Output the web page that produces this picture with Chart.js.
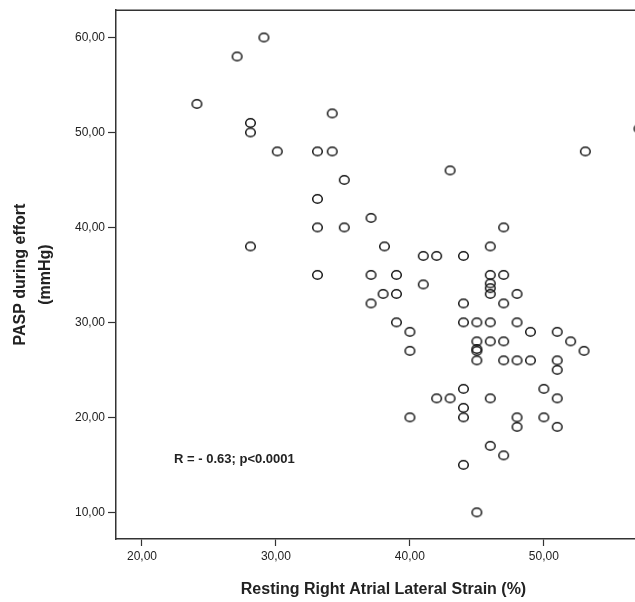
<!DOCTYPE html>
<html>
<head>
<meta charset="utf-8">
<script src="https://cdn.jsdelivr.net/npm/chart.js@4/dist/chart.umd.min.js"></script>
<style>
  body { margin: 0; overflow: hidden; background: #fff; }
  #myChart { display: block; }
</style>
</head>
<body>
<canvas id="myChart" width="660" height="602"></canvas>
<script>
// Resting RA lateral strain (%) vs PASP during effort (mmHg)
const strain = [
    29.1, 27.1, 24.1, 28.1, 28.1, 34.2, 30.1, 33.1, 34.2, 35.1,
    33.1, 33.1, 35.1, 28.1, 33.1, 53.1, 43, 37.1, 47, 38.1,
    46, 41, 42, 44, 37.1, 39, 46, 47, 41, 46,
    46, 46, 38, 39, 48, 37.1, 44, 47, 39, 44,
    45, 46, 48, 40, 49, 51, 45, 46, 47, 52,
    40, 45, 45, 53, 45, 47, 48, 49, 51, 51,
    44, 50, 42, 43, 46, 51, 44, 40, 44, 48,
    50, 48, 51, 46, 47, 44, 45, 57.1
];
const pasp = [
    60, 58, 53, 51, 50, 52, 48, 48, 48, 45,
    43, 40, 40, 38, 35, 48, 46, 41, 40, 38,
    38, 37, 37, 37, 35, 35, 35, 35, 34, 34.1,
    33.6, 33, 33, 33, 33, 32, 32, 32, 30, 30,
    30, 30, 30, 29, 29, 29, 28, 28, 28, 28,
    27, 27, 27.2, 27, 26, 26, 26, 26, 26, 25,
    23, 23, 22, 22, 22, 22, 21, 20, 20, 20,
    20, 19, 19, 17, 16, 15, 10, 50.4
];
const xTicks = [20, 30, 40, 50];
const yTicks = [10, 20, 30, 40, 50, 60];
const note = "R = - 0.63; p<0.0001";

const font = "'Liberation Sans', Arial, sans-serif";
const ink = "#222";

// open ellipse marker, as in the SPSS plot
function makeRing() {
    const c = document.createElement("canvas");
    c.width = 13;
    c.height = 12;
    const g = c.getContext("2d");
    g.strokeStyle = "#161616";
    g.lineWidth = 1.5;
    g.beginPath();
    g.ellipse(6.5, 6, 4.8, 4.3, 0, 0, Math.PI * 2);
    g.stroke();
    return c;
}

const comma = (v) => v.toFixed(2).replace(".", ",");

// top/right frame lines and the R / p text
const extras = {
    id: "extras",
    afterDraw(chart) {
        const { ctx, chartArea: a, scales } = chart;
        ctx.save();
        ctx.strokeStyle = "#333";
        ctx.lineWidth = 1.5;
        ctx.beginPath();
        ctx.moveTo(a.left, a.top);
        ctx.lineTo(a.right, a.top);
        ctx.lineTo(a.right, a.bottom);
        ctx.stroke();
        ctx.fillStyle = ink;
        ctx.font = "bold 13px " + font;
        ctx.textAlign = "center";
        ctx.textBaseline = "middle";
        ctx.fillText(note, scales.x.getPixelForValue(26.9), scales.y.getPixelForValue(15.6));
        ctx.restore();
    },
};

const ctx = document.getElementById("myChart").getContext("2d");
new Chart(ctx, {
    type: "scatter",
    data: {
        datasets: [
            {
                data: strain.map((x, i) => ({ x: x, y: pasp[i] })),
                pointStyle: makeRing(),
                pointRadius: 5,
                pointHoverRadius: 5,
            },
        ],
    },
    options: {
        responsive: false,
        animation: false,
        devicePixelRatio: 1,
        layout: { padding: { top: 10, right: 9, left: 0, bottom: 0 } },
        plugins: { legend: { display: false }, tooltip: { enabled: false } },
        scales: {
            x: {
                min: 18.06,
                max: 58,
                afterBuildTicks: (s) => { s.ticks = xTicks.map((v) => ({ value: v })); },
                afterFit: (s) => { s.height = 63; },
                grid: { drawOnChartArea: false, tickLength: 7, color: "#333", tickWidth: 1.2 },
                border: { color: "#333", width: 1.5 },
                ticks: { color: ink, font: { family: font, size: 12 }, padding: 3, maxRotation: 0, callback: comma },
                title: {
                    display: true,
                    text: "Resting Right Atrial Lateral Strain (%)",
                    color: ink,
                    font: { family: font, size: 16, weight: "bold" },
                    padding: { top: 0, bottom: 3 },
                },
            },
            y: {
                min: 7.19,
                max: 62.87,
                afterBuildTicks: (s) => { s.ticks = yTicks.map((v) => ({ value: v })); },
                afterFit: (s) => { s.width = 116; },
                grid: { drawOnChartArea: false, tickLength: 8, color: "#333", tickWidth: 1.2 },
                border: { color: "#333", width: 1.5 },
                ticks: { color: ink, font: { family: font, size: 12 }, padding: 3, callback: comma },
                title: {
                    display: true,
                    text: ["PASP during effort", "(mmHg)"],
                    color: ink,
                    font: { family: font, size: 16, weight: "bold", lineHeight: 1.55 },
                    padding: { top: 8, bottom: 0 },
                },
            },
        },
    },
    plugins: [extras],
});
</script>
</body>
</html>
